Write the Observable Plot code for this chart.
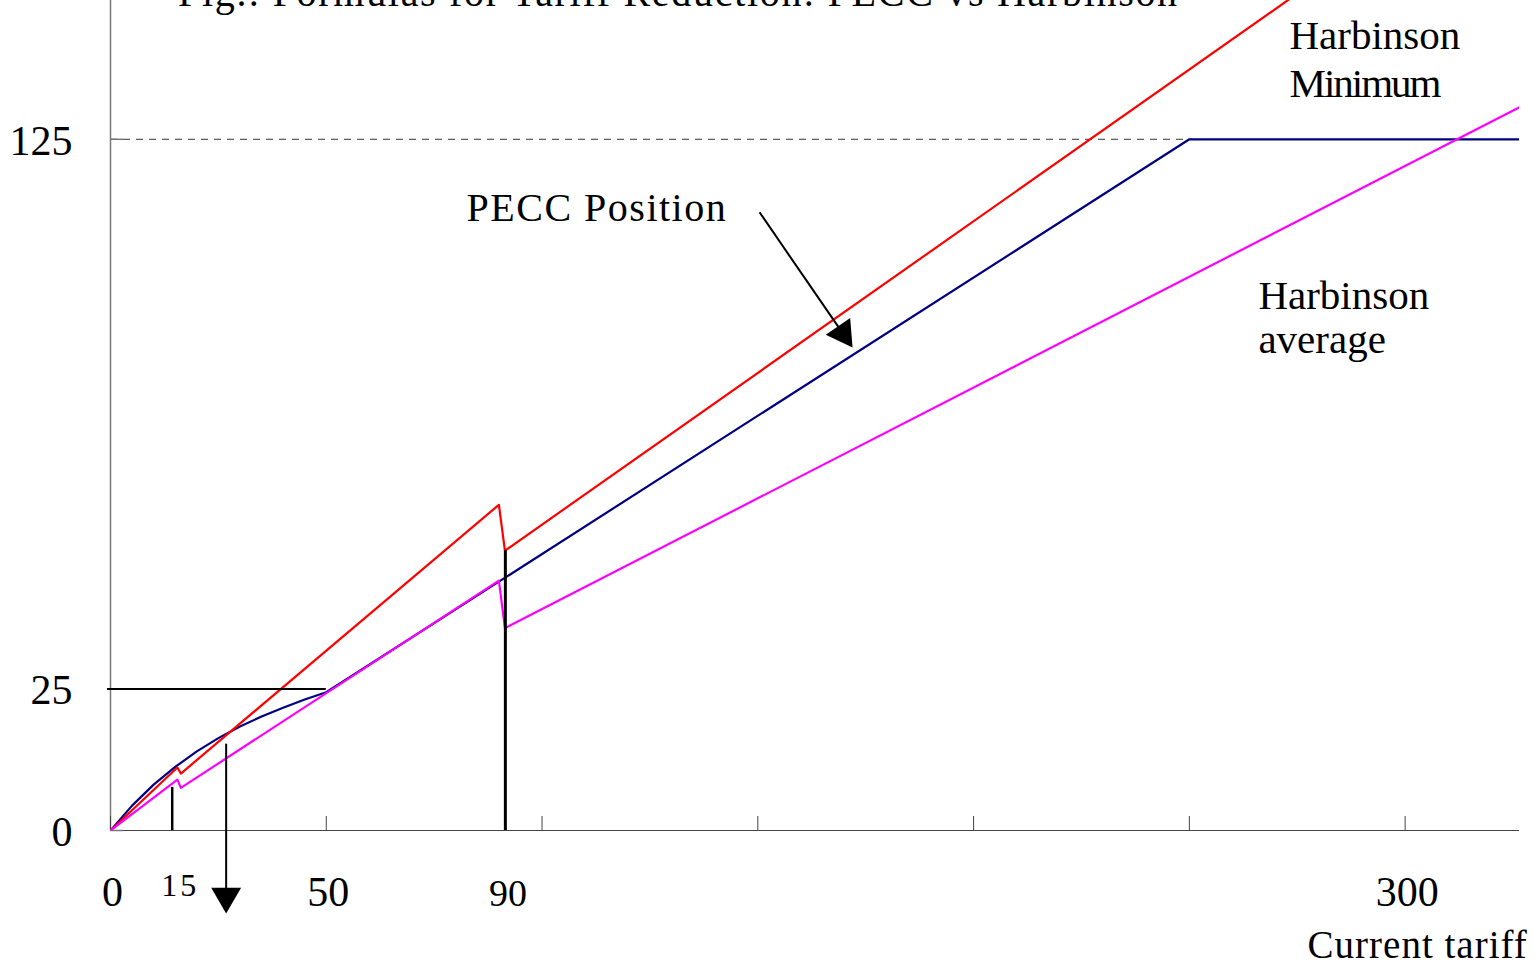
<!DOCTYPE html>
<html>
<head>
<meta charset="utf-8">
<script src="https://cdn.jsdelivr.net/npm/d3@7"></script>
<script src="https://cdn.jsdelivr.net/npm/@observablehq/plot@0.6"></script>
<style>
  html, body { margin: 0; padding: 0; background: #fff; overflow: hidden; }
  #wrap { position: relative; width: 1535px; height: 971px; overflow: hidden; }
  #title { position: absolute; left: 178px; top: -27px; font: 40px/40px "Liberation Serif", serif; white-space: nowrap; color: #000; letter-spacing: 1.7px; }
  #chart svg { display: block; }
</style>
</head>
<body>
<div id="wrap">
  <div id="chart"></div>
  <div id="title">Fig.: Formulas for Tariff Reduction: PECC vs Harbinson</div>
</div>
<script>
// ---- data ----
// PECC Position (navy)
const peccX = [0, 5, 10, 15, 20, 25, 30, 35, 40, 45, 50, 90, 250, 326.5];
const peccY = [0, 4.5, 8.3, 11.5, 14.3, 16.7, 18.8, 20.6, 22.2, 23.7, 25, 45, 125, 125];
// Harbinson Minimum (red)
const minX = [0, 15.5, 16.3, 90, 91.4, 326.5];
const minY = [0, 11.4, 10.3, 58.9, 50.6, 179.6];
// Harbinson average (magenta)
const avgX = [0, 15.5, 16.3, 90, 91.4, 326.5];
const avgY = [0, 9.2, 7.7, 45.2, 36.6, 130.8];

// axis ticks and labels
const xTickVals = [0, 50, 100, 150, 200, 250, 300];
const xBigLabels = [0, 50, 300];
const xSmallLabels = [15];
const xMidLabels = [90];
const yTickVals = [0, 125];
const yLabels = [0, 25, 125];

// annotations (data units)
const guideY = [25.6], guideFrom = [-0.7], guideTo = [50];
const dashY = [125], dashFrom = [0], dashTo = [250];
const vGuideX = [14.3], vGuideTop = [7.8];
const vGuide90X = [91.5], vGuide90Top = [50.6];
const downArrow = {x: 26.8, yFrom: 15.7, yTo: -11.9};
const peccArrow = {x1: 150.4, y1: 111.8, x2: 169.7, y2: 89.9};
const labelText = ["PECC Position", "Harbinson", "Minimum", "Harbinson", "average", "Current tariff"];
const labelX = [82.5, 273.2, 273.2, 266.0, 266.0, 277.4];
const labelY = [110.3, 141.4, 132.6, 94.4, 86.4, -23.0];

const toRows = (xs, ys) => xs.map((x, i) => ({x, y: ys[i]}));
const pecc = toRows(peccX, peccY);
const hmin = toRows(minX, minY);
const havg = toRows(avgX, avgY);
const labels = labelText.map((t, i) => ({t, x: labelX[i], y: labelY[i]}));

const font = "Liberation Serif";

const chart = Plot.plot({
  width: 1535,
  height: 971,
  marginLeft: 110,
  marginRight: 16,
  marginTop: 0,
  marginBottom: 141,
  x: {domain: [0, 326.5]},
  y: {domain: [0, 150.1]},
  style: {fontFamily: font, background: "white", color: "black"},
  marks: [
    // dashed reference at 125
    Plot.ruleY(dashY, {y: d => d, x1: () => dashFrom[0], x2: () => dashTo[0], stroke: "#333", strokeWidth: 1, strokeDasharray: "7,6"}),
    // axes lines
    Plot.ruleX([0], {stroke: "#777", strokeWidth: 1.5}),
    Plot.ruleY([0], {stroke: "#444", strokeWidth: 1.2}),
    Plot.axisX({ticks: xTickVals, tickSize: -14, tickFormat: () => "", stroke: "#444", label: null}),
    Plot.axisY({ticks: yTickVals, tickSize: -13, tickFormat: () => "", stroke: "#777", strokeWidth: 1.5, label: null}),
    // series
    Plot.line(pecc, {x: "x", y: "y", stroke: "#000080", strokeWidth: 2.2, clip: true}),
    Plot.line(hmin, {x: "x", y: "y", stroke: "#ff0000", strokeWidth: 2.2, clip: true}),
    Plot.line(havg, {x: "x", y: "y", stroke: "#ff00ff", strokeWidth: 2.2, clip: true}),
    // black guides
    Plot.ruleY(guideY, {y: d => d, x1: () => guideFrom[0], x2: () => guideTo[0], stroke: "black", strokeWidth: 2}),
    Plot.ruleX(vGuideX, {x: d => d, y1: 0, y2: () => vGuideTop[0], stroke: "black", strokeWidth: 2.5}),
    Plot.ruleX(vGuide90X, {x: d => d, y1: 0, y2: () => vGuide90Top[0], stroke: "black", strokeWidth: 3}),
    // arrows
    Plot.link([downArrow], {x1: "x", x2: "x", y1: "yFrom", y2: "yTo", stroke: "black", strokeWidth: 2}),
    Plot.dot([downArrow], {x: "x", y: "yTo", symbol: "triangle", r: 11.1, fill: "black", stroke: "none", rotate: 180}),
    Plot.link([peccArrow], {x1: "x1", y1: "y1", x2: "x2", y2: "y2", stroke: "black", strokeWidth: 2}),
    Plot.dot([peccArrow], {x: "x2", y: "y2", symbol: "triangle", r: 11, fill: "black", stroke: "none", rotate: 145.4}),
    // tick labels
    Plot.text(yLabels, {x: 0, y: d => d, text: d => String(d), textAnchor: "end", dx: -38, dy: 2, fontSize: 42, fill: "black"}),
    Plot.text(xBigLabels, {x: d => d, y: 0, text: d => String(d), lineAnchor: "bottom", dx: 2, dy: 75, fontSize: 42, fill: "black"}),
    Plot.text(xSmallLabels, {x: d => d, y: 0, text: d => String(d), lineAnchor: "bottom", dx: 5, dy: 65, fontSize: 32, fill: "black"}),
    Plot.text(xMidLabels, {x: d => d, y: 0, text: d => String(d), lineAnchor: "bottom", dx: 9, dy: 75, fontSize: 38, fill: "black"}),
    // annotation labels
    Plot.text(labels, {x: "x", y: "y", text: "t", textAnchor: "start", lineAnchor: "bottom", fontSize: 41, fill: "black"})
  ]
});

document.getElementById("chart").appendChild(chart);

// fine letter-spacing tweaks to mimic the original wide-set type
d3.select(chart).selectAll("text").each(function() {
  const t = this.textContent;
  if (t === "PECC Position") d3.select(this).style("letter-spacing", "1.5px").attr("font-size", 40);
  if (t === "Current tariff") d3.select(this).style("letter-spacing", "1px").attr("font-size", 39);
  if (t === "Minimum") d3.select(this).style("letter-spacing", "-2px");
  if (t === "15") d3.select(this).style("letter-spacing", "3px");
  if (t === "25") d3.select(this).attr("transform", function() { return (this.getAttribute("transform") || "") + " translate(0,-4)"; });
});
</script>
</body>
</html>
